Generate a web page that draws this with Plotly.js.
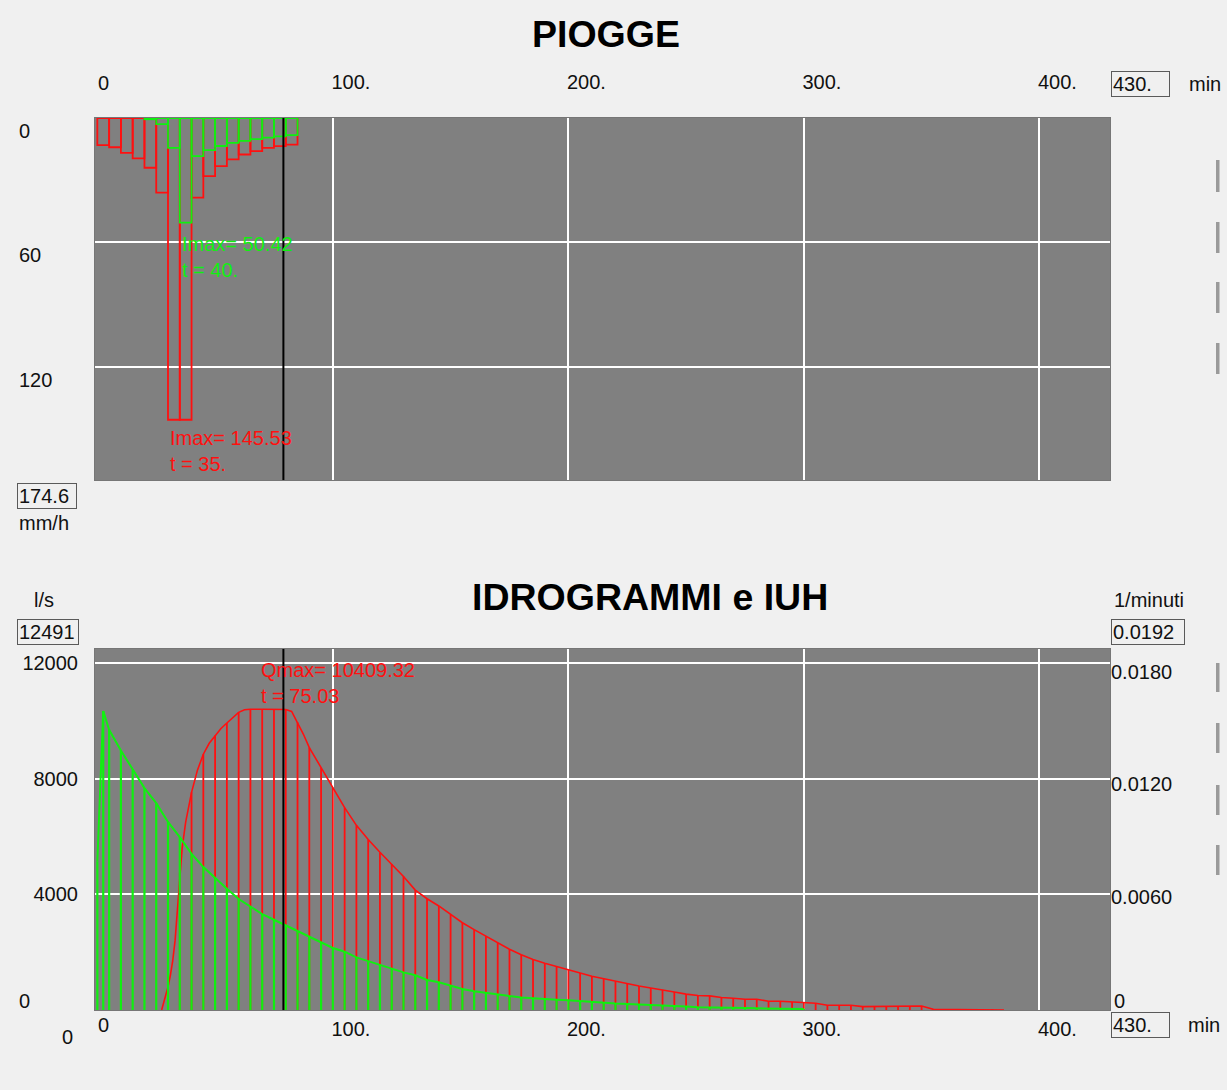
<!DOCTYPE html>
<html><head><meta charset="utf-8">
<script src="https://cdn.plot.ly/plotly-3.0.1.min.js"></script>
<style>html,body{margin:0;padding:0;background:#f0f0f0;overflow:hidden}#chart{width:1227px;height:1090px}</style>
</head><body><div id="chart"></div>
<script>
// ---------- DATA ----------
// rain intervals (end time of each 5-min block, minutes)
const rainT      = [5,10,15,20,25,30,35,40,45,50,55,60,65,70,75,80,85];
// total rain intensity (mm/h)
const rainTotal  = [13.1,14.1,16.8,19.5,24.0,36.0,145.53,145.53,38.4,28.0,23.2,20.0,17.6,16.0,14.4,13.6,12.8];
// net (effective) rain intensity (mm/h)
const rainNet    = [null,null,null,null,0.6,3.0,14.4,50.42,18.4,15.5,13.5,12.0,11.0,10.2,9.5,8.9,8.3];

// hydrograph (l/s) sampled every 5 min (vertical stems)
const qT   = [25,30,35,40,45,50,55,60,65,70,75,80,85,90,95,100,105,110,115,120,125,130,135,140,145,150,155,160,165,170,175,180,185,190,195,200,205,210,215,220,225,230,235,240,245,250,255,260,265,270,275,280,285,290,295,300,305,310,315,320,325,330,335,340,345,350,355,360,365,370,375,380,385];
const qVal = [0,800,4760,7530,8850,9500,9930,10300,10405,10408,10409.32,10400,9960,9080,8380,7700,7000,6390,5900,5460,5050,4620,4150,3850,3600,3300,3020,2780,2550,2320,2100,1910,1745,1620,1500,1390,1280,1170,1080,990,910,830,760,700,620,550,500,490,430,405,372,372,302,302,279,255,232,163,163,163,116,116,116,116,139,139,23,23,23,23,23,23,0];
// hydrograph curve (read more densely on the rising limb and peak)
const qLineT   = [27.3,30,31,32,33,34,35,36,37.5,40,42.5,45,47.5,50,52.5,55,57.5,60,62.5,65,70,75,80,82.5,85,87.5,90,95,100,105,110,115,120,125,130,135,140,145,150,155,160,165,170,175,180,185,190,195,200,205,210,215,220,225,230,235,240,245,250,255,260,265,270,275,280,285,290,295,300,305,310,315,320,325,330,335,340,345,350,355,360,365,370,375,380,385];
const qLineVal = [0,800,1200,1700,2400,3500,4760,5600,6500,7530,8300,8850,9230,9500,9740,9930,10120,10300,10390,10405,10408,10409.32,10400,10330,9960,9540,9080,8380,7700,7000,6390,5900,5460,5050,4620,4150,3850,3600,3300,3020,2780,2550,2320,2100,1910,1745,1620,1500,1390,1280,1170,1080,990,910,830,760,700,620,550,500,490,430,405,372,372,302,302,279,255,232,163,163,163,116,116,116,116,139,139,23,23,23,23,23,23,0];

// IUH (1/minuti)
const iuhT   = [0,2.5,5,10,15,20,25,30,35,40,45,50,55,60,65,70,75,80,85,90,95,100,105,110,115,120,125,130,135,140,145,150,155,160,165,170,175,180,185,190,195,200,205,210,215,220,225,230,235,240,245,250,255,260,265,270,275,280,285,290,295,300];
const iuhVal = [0.0079,0.0159,0.0149,0.0138,0.0128,0.0118,0.0110,0.0100,0.0092,0.0083,0.0076,0.0070,0.00645,0.0059,0.0055,0.0051,0.0048,0.0045,0.0042,0.0039,0.0036,0.0033,0.0031,0.0028,0.0026,0.0024,0.0022,0.0020,0.00185,0.00160,0.00148,0.00130,0.00112,0.00100,0.00090,0.00082,0.00074,0.00067,0.00062,0.00058,0.00055,0.00052,0.00047,0.00042,0.00037,0.00034,0.00032,0.00030,0.00028,0.00025,0.00022,0.00018,0.00015,0.00013,0.00012,0.00011,0.00010,0.00009,0.00008,0.00007,0.00006,0.00005];

// axis ranges / ticks
const tMax = 430;
const rainMax = 174.6;
const qMax = 12491;
const iuhMax = 0.0192;
const xTickVals = [100,200,300,400];
const xTickText = ['100.','200.','300.','400.'];
const rainTickVals = [0,60,120];
const rainTickText = ['0','60','120'];
const qTickVals = [4000,8000,12000];
const qTickText = ['4000','8000','12000'];
const iuhTickVals = [0.006,0.012,0.018];
const iuhTickText = ['0.0060','0.0120','0.0180'];

// peaks & cursor
const rainPeakVal = 145.53, rainPeakT = 35;
const netPeakVal = 50.42, netPeakT = 40;
const qPeakVal = 10409.32, qPeakT = 75.03;
const cursorT = 79;

// ---------- STYLE ----------
const W = 1227, H = 1090;
const px = v => v / W;
const py = v => 1 - v / H;
const RED = '#ff1010', GREEN = '#10f010';
const FONT = 'Liberation Sans, Arial, sans-serif';
const FS = 20;

const traces = [
  {type:'bar', x:rainT, y:rainTotal, offset:-5, width:5, xaxis:'x', yaxis:'y',
   marker:{color:'rgba(0,0,0,0)', line:{color:RED, width:1.8}}, hoverinfo:'skip'},
  {type:'bar', x:rainT, y:rainNet, offset:-5, width:5, xaxis:'x', yaxis:'y',
   marker:{color:'rgba(0,0,0,0)', line:{color:GREEN, width:1.8}}, hoverinfo:'skip'},
  // hydrograph stems
  {type:'scatter', mode:'markers', x:qT, y:qVal, xaxis:'x2', yaxis:'y2',
   marker:{size:1, opacity:0},
   error_y:{type:'data', symmetric:false, array:qVal.map(()=>0), arrayminus:qVal, width:0, thickness:1.8, color:RED},
   hoverinfo:'skip'},
  // hydrograph curve
  {type:'scatter', mode:'lines', x:qLineT, y:qLineVal, xaxis:'x2', yaxis:'y2',
   line:{color:RED, width:1.6}, hoverinfo:'skip'},
  // IUH stems + curve
  {type:'scatter', mode:'lines', x:iuhT, y:iuhVal, xaxis:'x2', yaxis:'y3',
   line:{color:GREEN, width:2},
   error_y:{type:'data', symmetric:false, array:iuhVal.map(()=>0), arrayminus:iuhVal, width:0, thickness:2.2, color:GREEN},
   hoverinfo:'skip'}
];

const txt = (text, x, y, opts) => Object.assign({text, x, y, xref:'paper', yref:'paper', showarrow:false,
  xanchor:'left', yanchor:'middle', font:{family:FONT, size:FS, color:'#111'}}, opts||{});
const box = (text, x, y, w) => txt(text, x, y, {width:w, height:22, align:'left', bordercolor:'#5a5a5a', borderwidth:1, borderpad:1});

const annotations = [
  txt('<b>IDROGRAMMI e IUH</b>', px(650), py(597), {xanchor:'center', font:{family:FONT, size:37.5, color:'#000'}}),
  // x "0" labels (left-aligned at tick)
  txt('0', 0, py(83), {xref:'x', xshift:-1}),
  txt('0', 0, py(1025), {xref:'x2', xshift:-1}),
  // top-left y tick labels
  ...rainTickVals.map((v,i)=>txt(rainTickText[i], px(17), v, {yref:'y', yanchor:'top'})),
  // zero labels bottom
  txt('0', px(17), py(1001)),
  txt('0', px(67), py(1037), {xanchor:'center'}),
  txt('0', px(1112), py(1001)),
  // boxes and units
  box(String(tMax)+'.', px(1111), py(84.5), 55),
  txt('min', px(1187), py(84)),
  box(String(tMax)+'.', px(1111), py(1025), 55),
  txt('min', px(1186), py(1025)),
  box(String(rainMax), px(17), py(495.5), 56),
  txt('mm/h', px(17), py(523)),
  txt('l/s', px(32), py(600)),
  box(String(qMax), px(17), py(631.5), 58),
  txt('1/minuti', px(1112), py(600)),
  box(iuhMax.toFixed(4), px(1111), py(631.5), 70),
  // peak labels
  {text:'Imax= '+netPeakVal.toFixed(2)+'<br>t = '+netPeakT+'.', xref:'x', yref:'y', x:netPeakT-5, y:netPeakVal,
   xanchor:'left', yanchor:'top', yshift:-8, showarrow:false, align:'left', font:{family:FONT, size:FS, color:GREEN}},
  {text:'Imax= '+rainPeakVal.toFixed(2)+'<br>t = '+rainPeakT+'.', xref:'x', yref:'y', x:rainPeakT-5, y:rainPeakVal,
   xanchor:'left', yanchor:'top', yshift:-5, showarrow:false, align:'left', font:{family:FONT, size:FS, color:RED}},
  {text:'Qmax= '+qPeakVal.toFixed(2)+'<br>t = '+qPeakT.toFixed(2), xref:'x2', yref:'y2', x:qPeakT, y:qPeakVal,
   xanchor:'left', yanchor:'bottom', xshift:-15, yshift:0, showarrow:false, align:'left', font:{family:FONT, size:FS, color:RED}}
];

const shapes = [
  {type:'line', xref:'x', x0:cursorT, x1:cursorT, yref:'y domain', y0:0, y1:1, line:{color:'#000', width:2}},
  {type:'line', xref:'x2', x0:cursorT, x1:cursorT, yref:'y2 domain', y0:0, y1:1, line:{color:'#000', width:2}}
];
// small side controls (decor)
[[160,192],[222,253],[282,313],[343,374],[663,692],[723,753],[785,815],[845,875]].forEach(([a,b])=>{
  shapes.push({type:'rect', xref:'paper', yref:'paper', x0:px(1216), x1:px(1219.5), y0:py(b), y1:py(a),
    fillcolor:'#9a9a9a', line:{width:0}, layer:'below'});
});

const axisCommon = {showgrid:true, gridcolor:'#ffffff', gridwidth:2, zeroline:false, ticks:'',
  showline:true, linecolor:'#767676', linewidth:1, mirror:true, fixedrange:true,
  tickfont:{family:FONT, size:FS, color:'#111'}};

const layout = {
  width:W, height:H, margin:{l:0, r:0, t:0, b:0, autoexpand:false},
  paper_bgcolor:'#f0f0f0', plot_bgcolor:'#808080',
  showlegend:false, barmode:'overlay', bargap:0,
  font:{family:FONT, size:FS, color:'#111'},
  title:{text:'<b>PIOGGE</b>', x:px(606), xref:'paper', y:py(34), yref:'paper', xanchor:'center', yanchor:'middle',
         font:{family:FONT, size:37.5, color:'#000'}},
  xaxis:Object.assign({}, axisCommon, {domain:[px(95), px(1110)], range:[-1, tMax], side:'top', anchor:'y',
    tickvals:xTickVals, ticktext:xTickText, ticklabelshift:18, ticklabelstandoff:20}),
  yaxis:Object.assign({}, axisCommon, {domain:[py(480), py(118)], range:[rainMax, 0], anchor:'x',
    tickvals:rainTickVals, showticklabels:false}),
  xaxis2:Object.assign({}, axisCommon, {domain:[px(95), px(1110)], range:[-1, tMax], anchor:'y2',
    tickvals:xTickVals, ticktext:xTickText, ticklabelshift:18, ticklabelstandoff:1}),
  yaxis2:Object.assign({}, axisCommon, {domain:[py(1010), py(649)], range:[0, qMax], anchor:'x2',
    tickvals:qTickVals, ticktext:qTickText, ticklabelstandoff:12}),
  yaxis3:Object.assign({}, axisCommon, {overlaying:'y2', side:'right', anchor:'x2', range:[0, iuhMax],
    tickvals:iuhTickVals, ticktext:iuhTickText, showgrid:false, showline:false, ticklabelstandoff:0}),
  annotations, shapes
};

Plotly.newPlot('chart', traces, layout, {staticPlot:true, displayModeBar:false});
</script>
</body></html>
